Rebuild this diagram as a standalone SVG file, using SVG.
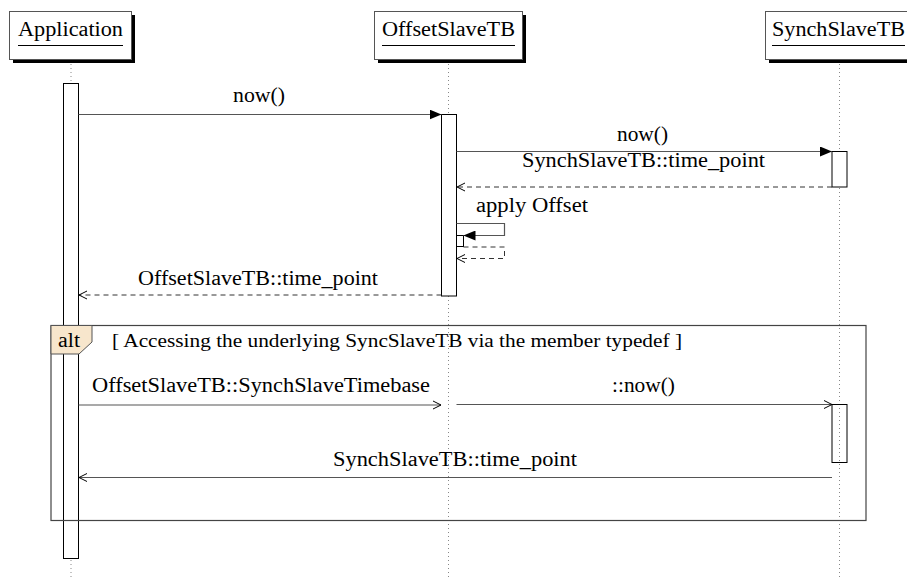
<svg xmlns="http://www.w3.org/2000/svg" width="907" height="583" viewBox="0 0 907 583">
<defs>
<style>
text { font-family: "Liberation Serif", "Times New Roman", serif; font-size: 20px; fill: #000; }
.guard { font-size: 19px; }
.head rect.box { fill: #fff; stroke: #555; stroke-width: 1; }
.head rect.shadow { fill: #000; }
.uline { stroke: #000; stroke-width: 1; }
.ll { stroke: #888; stroke-width: 1; stroke-dasharray: 1 3; fill: none; }
.act { fill: #fff; stroke: #000; stroke-width: 1; }
.act2 { fill: none; stroke: #000; stroke-width: 1; }
.msg { stroke: #555; stroke-width: 1.2; fill: none; }
.ret { stroke: #333; stroke-width: 1; stroke-dasharray: 5 4; fill: none; }
.frame { fill: none; stroke: #444; stroke-width: 1.2; }
.altlbl { fill: #f7e6cc; stroke: #555; stroke-width: 1; }
</style>
<marker id="filled" markerUnits="userSpaceOnUse" markerWidth="12" markerHeight="10" refX="12" refY="5" orient="auto">
<path d="M0,0 L12,5 L0,10 z" fill="#000"/>
</marker>
<marker id="open" markerUnits="userSpaceOnUse" markerWidth="10" markerHeight="10" refX="9" refY="5" orient="auto">
<path d="M1,1 L9,5 L1,9" fill="none" stroke="#000" stroke-width="1"/>
</marker>
</defs>
<rect width="907" height="583" fill="#fff"/>

<g id="lifelines">
<line class="ll" x1="71" y1="64" x2="71" y2="580"/>
<line class="ll" x1="448.5" y1="64" x2="448.5" y2="580"/>
<line class="ll" x1="839.5" y1="64" x2="839.5" y2="580"/>
</g>

<g id="Application" class="head">
<rect class="shadow" x="13" y="15" width="122" height="48"/>
<rect class="box" x="9.5" y="11.5" width="122" height="48"/>
<text x="18" y="36" textLength="105" lengthAdjust="spacingAndGlyphs">Application</text>
<line class="uline" x1="18" y1="45.5" x2="123" y2="45.5"/>
</g>
<g id="OffsetSlaveTB" class="head">
<rect class="shadow" x="378" y="15" width="148" height="48"/>
<rect class="box" x="374.5" y="11.5" width="148" height="48"/>
<text x="382" y="36" textLength="133" lengthAdjust="spacingAndGlyphs">OffsetSlaveTB</text>
<line class="uline" x1="382" y1="45.5" x2="515" y2="45.5"/>
</g>
<g id="SynchSlaveTB" class="head">
<rect class="shadow" x="769" y="15" width="150" height="48"/>
<rect class="box" x="765.5" y="11.5" width="150" height="48"/>
<text x="772" y="36" textLength="133" lengthAdjust="spacingAndGlyphs">SynchSlaveTB</text>
<line class="uline" x1="772" y1="45.5" x2="905" y2="45.5"/>
</g>

<g id="activations">
<rect class="act" x="63.5" y="83.5" width="15" height="475"/>
<rect class="act" x="441.5" y="114.5" width="15" height="181.5"/>
<rect class="act" x="832" y="151.5" width="15" height="35.5"/>
<rect class="act" x="456.5" y="235.5" width="7" height="11"/>
<rect class="act2" x="832" y="404.5" width="15" height="58"/>
</g>

<g id="alt-frame">
<rect class="frame" x="51" y="325.5" width="815" height="195"/>
<path class="altlbl" d="M51,325.5 L92,325.5 L92,342 L79,354 L51,354 Z"/>
<text x="58" y="347" textLength="22" lengthAdjust="spacingAndGlyphs">alt</text>
<text class="guard" x="112" y="347" textLength="570" lengthAdjust="spacingAndGlyphs">[ Accessing the underlying SyncSlaveTB via the member typedef ]</text>
</g>

<g id="connectors">
<line class="msg" x1="78.5" y1="114.5" x2="441.5" y2="114.5" marker-end="url(#filled)"/>
<line class="msg" x1="456.5" y1="151.5" x2="832" y2="151.5" marker-end="url(#filled)"/>
<line class="ret" x1="832" y1="187" x2="457" y2="187" marker-end="url(#open)"/>
<polyline class="msg" points="456.5,223.5 504.5,223.5 504.5,235.5 463.5,235.5" marker-end="url(#filled)"/>
<polyline class="ret" points="463.5,247 504.5,247 504.5,258.5 457,258.5" marker-end="url(#open)"/>
<line class="ret" x1="441.5" y1="295" x2="79" y2="295" marker-end="url(#open)"/>
<line class="msg" x1="78.5" y1="405" x2="441" y2="405" marker-end="url(#open)"/>
<line class="msg" x1="456.5" y1="404.5" x2="832" y2="404.5" marker-end="url(#open)"/>
<line class="msg" x1="832" y1="477.5" x2="79" y2="477.5" marker-end="url(#open)"/>
</g>

<g id="labels">
<text x="233" y="102" textLength="52" lengthAdjust="spacingAndGlyphs">now()</text>
<text x="617" y="141" textLength="51" lengthAdjust="spacingAndGlyphs">now()</text>
<text x="522" y="167" textLength="243" lengthAdjust="spacingAndGlyphs">SynchSlaveTB::time_point</text>
<text x="476" y="212" textLength="112" lengthAdjust="spacingAndGlyphs">apply Offset</text>
<text x="138" y="285" textLength="240" lengthAdjust="spacingAndGlyphs">OffsetSlaveTB::time_point</text>
<text x="92" y="392" textLength="338" lengthAdjust="spacingAndGlyphs">OffsetSlaveTB::SynchSlaveTimebase</text>
<text x="612" y="392" textLength="63" lengthAdjust="spacingAndGlyphs">::now()</text>
<text x="333" y="466" textLength="244" lengthAdjust="spacingAndGlyphs">SynchSlaveTB::time_point</text>
</g>
</svg>
